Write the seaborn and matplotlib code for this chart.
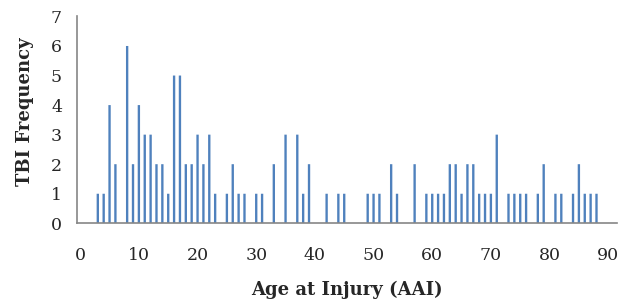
import numpy as np
import pandas as pd
import matplotlib
matplotlib.use("Agg")
import matplotlib.pyplot as plt
import seaborn as sns

# Fréquence des TBI par âge au moment de la blessure
ages = [3, 4, 5, 6, 8, 9, 10, 11, 12, 13, 14, 15, 16, 17, 18, 19, 20, 21, 22, 23,
        25, 26, 27, 28, 30, 31, 33, 35, 37, 38, 39, 42, 44, 45, 49, 50, 51, 53, 54,
        57, 59, 60, 61, 62, 63, 64, 65, 66, 67, 68, 69, 70, 71, 73, 74, 75, 76, 78,
        79, 81, 82, 84, 85, 86, 87, 88]
counts = [1, 1, 4, 2, 6, 2, 4, 3, 3, 2, 2, 1, 5, 5, 2, 2, 3, 2, 3, 1,
          1, 2, 1, 1, 1, 1, 2, 3, 3, 1, 2, 1, 1, 1, 1, 1, 1, 2, 1,
          2, 1, 1, 1, 1, 2, 2, 1, 2, 2, 1, 1, 1, 3, 1, 1, 1, 1, 1,
          2, 1, 1, 1, 2, 1, 1, 1]
x_ticks = [0, 10, 20, 30, 40, 50, 60, 70, 80, 90]
y_ticks = [0, 1, 2, 3, 4, 5, 6, 7]

df = pd.DataFrame({"AAI": ages, "TBI": counts})

sns.set_style("white")
plt.rcParams["font.family"] = ["DejaVu Serif"]

GRIS = "#868686"

fig = plt.figure(figsize=(6.35, 3.02), dpi=100)
ax = fig.add_axes([0.1217, 0.2606, 0.85, 0.685])

sns.barplot(data=df, x="AAI", y="TBI", native_scale=True, width=0.4,
            color="#4F81BD", saturation=1, errorbar=None, linewidth=0,
            edgecolor="none", ax=ax)
for p in ax.patches:
    p.set_snap(False)

ax.set_xlim(-0.5, 91.5)
ax.set_ylim(0, 7)
ax.set_xticks(x_ticks)
ax.set_xticklabels([str(v) for v in x_ticks])
ax.set_xticks(np.arange(-0.5, 90, 5), minor=True)
ax.set_yticks(y_ticks)

ax.tick_params(axis="x", which="major", length=0, pad=17, labelsize=12.5)
ax.tick_params(axis="x", which="minor", length=6, width=1.2, color=GRIS, direction="out")
ax.tick_params(axis="y", length=5, width=1.2, color=GRIS, direction="out", pad=6, labelsize=12.5)

sns.despine(ax=ax)
for s in ["left", "bottom"]:
    ax.spines[s].set_color(GRIS)
    ax.spines[s].set_linewidth(1.2)
    ax.spines[s].set_zorder(5)

ax.set_xlabel("Age at Injury (AAI)", fontsize=13, fontweight="bold")
ax.set_ylabel("TBI Frequency", fontsize=13, fontweight="bold")
ax.xaxis.set_label_coords(0.5, -0.28)
ax.yaxis.set_label_coords(-0.081, 0.54)

fig.savefig("out.png", dpi=100)
